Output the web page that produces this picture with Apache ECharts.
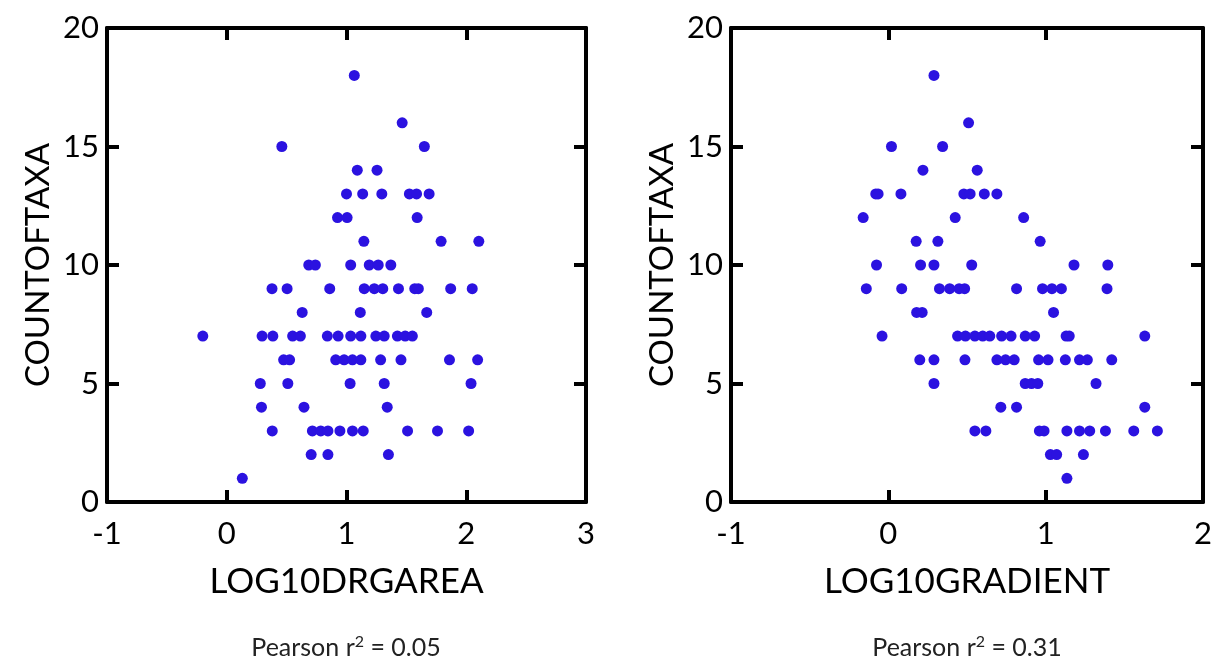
<!DOCTYPE html>
<html>
<head>
<meta charset="utf-8">
<script src="https://cdn.jsdelivr.net/npm/echarts@6/dist/echarts.min.js"></script>
<style>
  html, body { margin: 0; padding: 0; background: #ffffff; }
  #chart { width: 1217px; height: 669px; }
</style>
</head>
<body>
<div id="chart"></div>
<script>
// ---- Data ----
const drgAreaX = [
  1.065,
  1.465,
  0.46, 1.65,
  1.09, 1.255,
  1.0, 1.135, 1.295, 1.525, 1.585, 1.69,
  0.925, 1.005, 1.59,
  1.145, 1.79, 2.105,
  0.685, 0.74, 1.035, 1.19, 1.265, 1.37,
  0.378, 0.504, 0.86, 1.148, 1.232, 1.303, 1.434, 1.57, 1.60, 1.87, 2.05,
  0.63, 1.115, 1.67,
  -0.2, 0.295, 0.385, 0.55, 0.615, 0.84, 0.93, 1.035, 1.12, 1.245, 1.315, 1.425, 1.49, 1.55,
  0.475, 0.525, 0.91, 0.98, 1.05, 1.12, 1.285, 1.455, 1.86, 2.095,
  0.28, 0.51, 1.03, 1.315, 2.04,
  0.29, 0.645, 1.34,
  0.38, 0.715, 0.785, 0.845, 0.945, 1.05, 1.14, 1.51, 1.76, 2.02,
  0.705, 0.845, 1.35,
  0.13
];
const drgAreaCount = [
  18,
  16,
  15, 15,
  14, 14,
  13, 13, 13, 13, 13, 13,
  12, 12, 12,
  11, 11, 11,
  10, 10, 10, 10, 10, 10,
  9, 9, 9, 9, 9, 9, 9, 9, 9, 9, 9,
  8, 8, 8,
  7, 7, 7, 7, 7, 7, 7, 7, 7, 7, 7, 7, 7, 7,
  6, 6, 6, 6, 6, 6, 6, 6, 6, 6,
  5, 5, 5, 5, 5,
  4, 4, 4,
  3, 3, 3, 3, 3, 3, 3, 3, 3, 3,
  2, 2, 2,
  1
];
const gradientX = [
  0.29,
  0.51,
  0.02, 0.345,
  0.22, 0.565,
  -0.08, -0.065, 0.08, 0.48, 0.52, 0.61, 0.69,
  -0.16, 0.425, 0.86,
  0.177, 0.315, 0.965,
  -0.075, 0.205, 0.29, 0.53, 1.18, 1.395,
  -0.14, 0.085, 0.325, 0.39, 0.45, 0.485, 0.815, 0.98, 1.04, 1.10, 1.39,
  0.18, 0.215, 1.05,
  -0.04, 0.44, 0.49, 0.55, 0.6, 0.645, 0.72, 0.78, 0.87, 0.93, 1.13, 1.15, 1.63,
  0.2, 0.29, 0.487, 0.69, 0.745, 0.80, 0.955, 1.015, 1.125, 1.215, 1.265, 1.42,
  0.29, 0.87, 0.91, 0.95, 1.32,
  0.715, 0.815, 1.63,
  0.55, 0.62, 0.96, 0.99, 1.135, 1.215, 1.28, 1.38, 1.56, 1.71,
  1.03, 1.07, 1.24,
  1.135
];
const gradientCount = [
  18,
  16,
  15, 15,
  14, 14,
  13, 13, 13, 13, 13, 13, 13,
  12, 12, 12,
  11, 11, 11,
  10, 10, 10, 10, 10, 10,
  9, 9, 9, 9, 9, 9, 9, 9, 9, 9, 9,
  8, 8, 8,
  7, 7, 7, 7, 7, 7, 7, 7, 7, 7, 7, 7, 7,
  6, 6, 6, 6, 6, 6, 6, 6, 6, 6, 6, 6,
  5, 5, 5, 5, 5,
  4, 4, 4,
  3, 3, 3, 3, 3, 3, 3, 3, 3, 3,
  2, 2, 2,
  1
];
const xNames = ['LOG10DRGAREA', 'LOG10GRADIENT'];
const yName = 'COUNTOFTAXA';
const xRanges = [[-1, 3], [-1, 2]];
const yRange = [0, 20];
const pearsonValues = ['0.05', '0.31'];

// ---- Styling ----
const FONT = 'Lato';
const DOT = '#2B12E0';
const grids = [
  { left: 107, right: 1217 - 586, top: 28, bottom: 669 - 502 },
  { left: 731, right: 1217 - 1203, top: 28, bottom: 669 - 502 }
];
const lineStyle = { color: '#000', width: 4 };
const tickStyle = { show: true, inside: true, length: 12, lineStyle: { color: '#000', width: 4 } };

const xAxes = [], yAxes = [];
[0, 1].forEach(function (g) {
  xAxes.push({
    type: 'value', gridIndex: g, position: 'bottom',
    min: xRanges[g][0], max: xRanges[g][1], interval: 1,
    axisLine: { show: true, onZero: false, lineStyle: lineStyle },
    axisTick: tickStyle, splitLine: { show: false },
    axisLabel: { fontFamily: FONT, fontSize: 31, color: '#000', margin: 16 },
    name: xNames[g], nameLocation: 'middle', nameGap: 62,
    nameTextStyle: { fontFamily: FONT, fontSize: 35, color: '#000' }
  });
  xAxes.push({
    type: 'value', gridIndex: g, position: 'top',
    min: xRanges[g][0], max: xRanges[g][1], interval: 1,
    axisLine: { show: true, onZero: false, lineStyle: lineStyle },
    axisTick: tickStyle, axisLabel: { show: false }, splitLine: { show: false }
  });
  yAxes.push({
    type: 'value', gridIndex: g, position: 'left',
    min: yRange[0], max: yRange[1], interval: 5,
    axisLine: { show: true, onZero: false, lineStyle: lineStyle },
    axisTick: tickStyle, splitLine: { show: false },
    axisLabel: { fontFamily: FONT, fontSize: 31, color: '#000', margin: 8 },
    name: yName, nameLocation: 'middle', nameGap: 52, nameRotate: 90,
    nameTextStyle: { fontFamily: FONT, fontSize: 33, color: '#000' }
  });
  yAxes.push({
    type: 'value', gridIndex: g, position: 'right',
    min: yRange[0], max: yRange[1], interval: 5,
    axisLine: { show: true, onZero: false, lineStyle: lineStyle },
    axisTick: tickStyle, axisLabel: { show: false }, splitLine: { show: false }
  });
});

function pairs(xs, ys) { return xs.map(function (x, i) { return [x, ys[i]]; }); }

const centers = [346, 967];
const option = {
  backgroundColor: '#ffffff',
  animation: false,
  grid: grids,
  xAxis: xAxes,
  yAxis: yAxes,
  series: [
    { type: 'scatter', xAxisIndex: 0, yAxisIndex: 0, data: pairs(drgAreaX, drgAreaCount),
      symbolSize: 11, itemStyle: { color: DOT, opacity: 1 } },
    { type: 'scatter', xAxisIndex: 2, yAxisIndex: 2, data: pairs(gradientX, gradientCount),
      symbolSize: 11, itemStyle: { color: DOT, opacity: 1 } }
  ],
  graphic: pearsonValues.map(function (v, i) {
    return {
      type: 'text', x: centers[i], y: 648,
      style: {
        text: 'Pearson r{sup|2} = ' + v,
        align: 'center', verticalAlign: 'middle',
        fontFamily: FONT, fontSize: 25, fill: '#222',
        rich: { sup: { fontFamily: FONT, fontSize: 16, fill: '#222', padding: [0, 0, 12, 0] } }
      }
    };
  })
};

const chart = echarts.init(document.getElementById('chart'), null, { renderer: 'canvas' });
chart.setOption(option);
</script>
</body>
</html>
